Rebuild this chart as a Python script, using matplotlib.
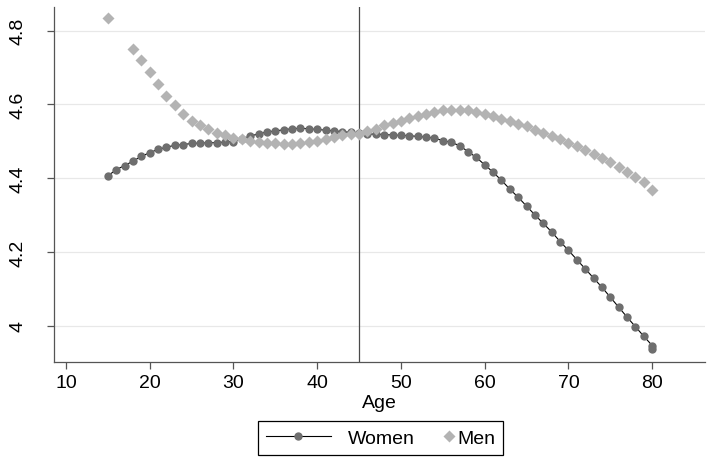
import matplotlib
matplotlib.use("Agg")
import matplotlib.pyplot as plt
from matplotlib.legend_handler import HandlerLine2D

plt.rcParams["font.family"] = ["Liberation Sans", "DejaVu Sans"]

# ---------------------------------------------------------------------------
# Data
# ---------------------------------------------------------------------------
women_age = [15, 16, 17, 18, 19, 20, 21, 22, 23, 24, 25, 26, 27, 28, 29, 30,
             31, 32, 33, 34, 35, 36, 37, 38, 39, 40, 41, 42, 43, 44, 45, 46,
             47, 48, 49, 50, 51, 52, 53, 54, 55, 56, 57, 58, 59, 60, 61, 62,
             63, 64, 65, 66, 67, 68, 69, 70, 71, 72, 73, 74, 75, 76, 77, 78,
             79, 80, 80]
women_val = [4.406, 4.423, 4.434, 4.446, 4.459, 4.469, 4.478, 4.484, 4.489,
             4.491, 4.494, 4.495, 4.496, 4.496, 4.498, 4.499, 4.506, 4.514,
             4.520, 4.525, 4.528, 4.531, 4.534, 4.535, 4.534, 4.532, 4.530,
             4.528, 4.526, 4.524, 4.522, 4.520, 4.519, 4.518, 4.517, 4.516,
             4.515, 4.513, 4.511, 4.508, 4.502, 4.497, 4.488, 4.472, 4.456,
             4.436, 4.416, 4.394, 4.370, 4.348, 4.324, 4.300, 4.277, 4.254,
             4.228, 4.204, 4.179, 4.154, 4.129, 4.104, 4.077, 4.050, 4.023,
             3.997, 3.971, 3.946, 3.937]

men_age = [15, 18, 19, 20, 21, 22, 23, 24, 25, 26, 27, 28, 29, 30, 31, 32,
           33, 34, 35, 36, 37, 38, 39, 40, 41, 42, 43, 44, 45, 46, 47, 48,
           49, 50, 51, 52, 53, 54, 55, 56, 57, 58, 59, 60, 61, 62, 63, 64,
           65, 66, 67, 68, 69, 70, 71, 72, 73, 74, 75, 76, 77, 78, 79, 80]
men_val = [4.835, 4.749, 4.719, 4.688, 4.656, 4.624, 4.597, 4.575, 4.556,
           4.543, 4.532, 4.523, 4.516, 4.509, 4.505, 4.502, 4.499, 4.496,
           4.494, 4.493, 4.493, 4.495, 4.498, 4.502, 4.507, 4.511, 4.516,
           4.520, 4.520, 4.527, 4.534, 4.543, 4.550, 4.556, 4.563, 4.568,
           4.575, 4.579, 4.584, 4.585, 4.586, 4.584, 4.579, 4.575, 4.568,
           4.561, 4.554, 4.548, 4.540, 4.531, 4.523, 4.514, 4.505, 4.496,
           4.487, 4.477, 4.466, 4.454, 4.443, 4.430, 4.416, 4.403, 4.389,
           4.368]

x_ticks = [10, 20, 30, 40, 50, 60, 70, 80]
y_ticks = [4.0, 4.2, 4.4, 4.6, 4.8]
y_labels = ["4", "4.2", "4.4", "4.6", "4.8"]
cutoff_age = 45

# ---------------------------------------------------------------------------
# Figure
# ---------------------------------------------------------------------------
fig = plt.figure(figsize=(7.14, 4.64), dpi=100)
ax = fig.add_axes([0.0756, 0.2177, 0.9118, 0.7651])

AXIS_GREY = "#555555"

for y in y_ticks:
    ax.axhline(y, color="#e8e8e8", lw=0.9, zorder=0)

ax.axvline(cutoff_age, color="#4a4a4a", lw=0.9, zorder=1)

women_line, = ax.plot(women_age, women_val, color="black", lw=0.8,
                      marker="o", ms=6, mfc="#6e6e6e", mec="none", zorder=2,
                      label="Women")
men_line, = ax.plot(men_age, men_val, ls="none", marker="D", ms=6.5,
                    mfc="#b3b3b3", mec="none", zorder=3, label="Men")

ax.set_xlim(8.57, 86.3)
ax.set_ylim(3.9015, 4.864)
ax.set_xticks(x_ticks)
ax.set_yticks(y_ticks)
ax.set_yticklabels(y_labels)

for side in ["top", "right"]:
    ax.spines[side].set_visible(False)
for side in ["left", "bottom"]:
    ax.spines[side].set_color(AXIS_GREY)
    ax.spines[side].set_linewidth(0.9)

ax.tick_params(axis="both", colors=AXIS_GREY, labelcolor="black",
               length=5, width=0.9, labelsize=14)
ax.tick_params(axis="x", pad=4)
ax.tick_params(axis="y", pad=15)
for lab in ax.get_yticklabels():
    lab.set_rotation(90)
    lab.set_va("center")

ax.set_xlabel("Age", fontsize=14, labelpad=2)

# legend below the plot, Stata style (men marker pushed next to its label)
leg = fig.legend(
    handles=[women_line, men_line],
    loc="center",
    bbox_to_anchor=(0.533, 0.054),
    ncol=2,
    fontsize=14,
    frameon=True,
    fancybox=False,
    edgecolor="black",
    framealpha=1,
    handlelength=3.34,
    handletextpad=0.9,
    columnspacing=-2.05,
    borderpad=0.4,
    numpoints=1,
    handler_map={men_line: HandlerLine2D(xpad=4.3)},
)
leg.get_frame().set_linewidth(0.9)

fig.savefig("out.png", dpi=100, facecolor="white")
